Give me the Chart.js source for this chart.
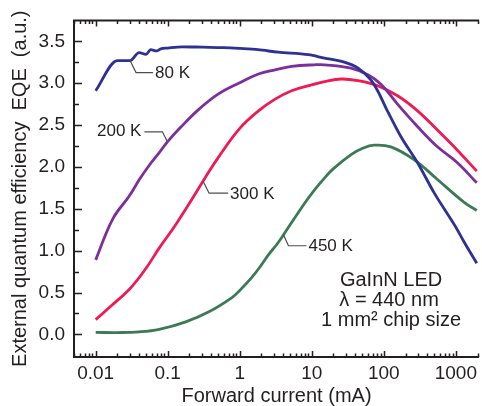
<!DOCTYPE html>
<html>
<head>
<meta charset="utf-8">
<script src="https://cdn.jsdelivr.net/npm/chart.js"></script>
<style>
  body { margin: 0; background: #fff; }
  #wrap { width: 482px; height: 406px; position: relative; }
</style>
</head>
<body>
<div id="wrap"><canvas id="eqe"></canvas></div>
<script>
let ctxEl = document.getElementById('eqe');

// data: forward current (mA) vs EQE (a.u.)
let current80 = [0.01, 0.02, 0.03, 0.04, 0.05, 0.058, 0.07, 0.08, 0.1, 0.16, 0.3, 0.6, 1, 1.8, 3.4, 9, 15, 26, 44, 66, 82, 112, 173, 294, 500, 1000, 1290, 1950];
let eqe80 = [2.91, 3.27, 3.27, 3.365, 3.345, 3.40, 3.385, 3.41, 3.42, 3.435, 3.43, 3.425, 3.415, 3.40, 3.37, 3.34, 3.30, 3.26, 3.18, 3.04, 2.91, 2.67, 2.36, 2.05, 1.69, 1.28, 1.11, 0.85];

let current200 = [0.01, 0.0173, 0.0294, 0.0404, 0.0555, 0.0763, 0.099, 0.15, 0.272, 0.5, 0.966, 1.82, 3.1, 5.26, 11, 15, 35, 60, 92, 155, 295, 555, 1050, 1950];
let eqe200 = [0.89, 1.38, 1.655, 1.85, 2.02, 2.17, 2.30, 2.47, 2.69, 2.87, 3.00, 3.11, 3.16, 3.20, 3.22, 3.22, 3.18, 3.10, 2.985, 2.75, 2.48, 2.24, 2.05, 1.81];

let current300 = [0.01, 0.0156, 0.0294, 0.05, 0.076, 0.129, 0.219, 0.336, 0.51, 1, 1.82, 3.1, 5.26, 10, 15, 25.7, 43.6, 82, 155, 294, 555, 1050, 1950];
let eqe300 = [0.176, 0.325, 0.54, 0.79, 1.03, 1.31, 1.62, 1.88, 2.12, 2.46, 2.67, 2.81, 2.91, 2.98, 3.02, 3.05, 3.03, 2.97, 2.85, 2.67, 2.44, 2.20, 1.95];

let current450 = [0.01, 0.02, 0.04, 0.076, 0.178, 0.373, 0.78, 1, 1.47, 2, 2.5, 3.3, 4.27, 8, 11, 15.1, 20, 35.5, 50, 73, 125, 265, 555, 1290, 1950];
let eqe450 = [0.024, 0.022, 0.03, 0.06, 0.15, 0.27, 0.44, 0.525, 0.68, 0.83, 0.95, 1.08, 1.22, 1.57, 1.73, 1.87, 1.98, 2.15, 2.22, 2.26, 2.24, 2.085, 1.85, 1.58, 1.48];

let xTicks = [0.01, 0.1, 1, 10, 100, 1000];
let yTicks = [0, 0.5, 1, 1.5, 2, 2.5, 3, 3.5];

let colors = ['#2c3192', '#7d2e9b', '#ee1a53', '#3c7a57'];

function pts(xs, ys) {
    return xs.map((v, i) => ({x: v, y: ys[i]}));
}

// curve labels with leader lines, anchored on the curves
let curveLabels = [
    {text: '80 K', at: [0.03, 3.27], corner: [6, 12], end: 23, side: 'right'},
    {text: '200 K', at: [0.099, 2.30], corner: [-5, -10], end: -23, side: 'left'},
    {text: '300 K', at: [0.31, 1.83], corner: [6, 12], end: 25, side: 'right'},
    {text: '450 K', at: [4.04, 1.19], corner: [5, 11], end: 23, side: 'right'},
];

let FONT = '"Liberation Sans", Arial, sans-serif';
let INK = '#231f20';

let frame = {
    id: 'frame',
    afterDatasetsDraw(chart) {
        let {ctx, chartArea: a, scales: {x, y}} = chart;
        ctx.save();
        ctx.strokeStyle = INK;

        // axis lines (left, top, bottom)
        ctx.lineWidth = 2;
        ctx.beginPath();
        ctx.moveTo(a.right, a.top);
        ctx.lineTo(a.left, a.top);
        ctx.lineTo(a.left, a.bottom);
        ctx.lineTo(a.right, a.bottom);
        ctx.stroke();

        // inward ticks
        ctx.lineWidth = 1.5;
        ctx.beginPath();
        for (let d = -3; d <= 3; d++) {
            for (let m = 1; m <= 9; m++) {
                let v = m * Math.pow(10, d);
                if (v < x.min || v > x.max) continue;
                let px = Math.round(x.getPixelForValue(v)) + 0.5;
                let len = m === 1 ? 6 : 3.5;
                ctx.moveTo(px, a.bottom);
                ctx.lineTo(px, a.bottom - len);
                ctx.moveTo(px, a.top);
                ctx.lineTo(px, a.top + len);
            }
        }
        for (let v = 0; v <= 3.5001; v += 0.25) {
            let py = Math.round(y.getPixelForValue(v)) + 0.5;
            let major = Math.abs(v * 2 - Math.round(v * 2)) < 1e-6;
            ctx.moveTo(a.left, py);
            ctx.lineTo(a.left + (major ? 8 : 5), py);
        }
        ctx.stroke();

        // curve labels
        ctx.strokeStyle = '#4d4d4d';
        ctx.lineWidth = 1.2;
        ctx.fillStyle = INK;
        ctx.font = '17px ' + FONT;
        ctx.textBaseline = 'middle';
        curveLabels.forEach(l => {
            let px = x.getPixelForValue(l.at[0]);
            let py = y.getPixelForValue(l.at[1]);
            let cx = px + l.corner[0], cy = py + l.corner[1];
            ctx.beginPath();
            ctx.moveTo(px, py);
            ctx.lineTo(cx, cy);
            ctx.lineTo(px + l.end, cy);
            ctx.stroke();
            if (l.side === 'right') {
                ctx.textAlign = 'left';
                ctx.fillText(l.text, px + l.end + 2, cy + 1);
            } else {
                ctx.textAlign = 'right';
                ctx.fillText(l.text, px + l.end - 3, cy);
            }
        });

        // sample description
        ctx.font = '20px ' + FONT;
        ctx.textAlign = 'center';
        let tx = a.right - 88;
        ctx.fillText('GaInN LED', tx, a.top + 260);
        ctx.fillText('\u03bb = 440 nm', tx - 2, a.top + 280);
        ctx.fillText('1 mm\u00b2 chip size', tx, a.top + 300);
        ctx.restore();
    }
};

let eqeData = {
    datasets: [
        {label: '80 K', data: pts(current80, eqe80), borderColor: colors[0], cubicInterpolationMode: 'monotone'},
        {label: '200 K', data: pts(current200, eqe200), borderColor: colors[1], tension: 0.4},
        {label: '300 K', data: pts(current300, eqe300), borderColor: colors[2], tension: 0.4},
        {label: '450 K', data: pts(current450, eqe450), borderColor: colors[3], tension: 0.4},
    ].map(d => Object.assign(d, {
        borderWidth: 2.8,
        pointRadius: 0,
        fill: false,
    })),
};

let eqeOptions = {
    responsive: true,
    maintainAspectRatio: false,
    animation: false,
    layout: {
        autoPadding: false,
        padding: {top: 15, right: 0, bottom: 0, left: 0},
    },
    plugins: {
        legend: {display: false},
        tooltip: {enabled: false},
    },
    scales: {
        x: {
            type: 'logarithmic',
            min: 0.005,
            max: 2100,
            grid: {display: false, drawTicks: false},
            border: {display: false},
            afterBuildTicks: s => { s.ticks = xTicks.map(v => ({value: v})); },
            afterFit: s => { s.height = 49; },
            ticks: {
                padding: 5,
                color: INK,
                font: {family: FONT, size: 19},
                callback: v => String(v),
            },
            title: {
                display: true,
                text: 'Forward current (mA)',
                color: INK,
                font: {family: FONT, size: 20, lineHeight: 1},
                padding: {top: 0, bottom: 0},
            },
        },
        y: {
            type: 'linear',
            min: -0.27,
            max: 3.75,
            grid: {display: false, drawTicks: false},
            border: {display: false},
            afterBuildTicks: s => { s.ticks = yTicks.map(v => ({value: v})); },
            afterFit: s => { s.width = 74; },
            ticks: {
                padding: 9,
                color: INK,
                font: {family: FONT, size: 19},
                callback: v => v.toFixed(1),
            },
            title: {
                display: true,
                text: 'External quantum efficiency  EQE  (a.u.)',
                color: INK,
                font: {family: FONT, size: 20, lineHeight: 1},
                padding: {top: 10, bottom: 0},
            },
        },
    },
};

let eqeChart = new Chart(ctxEl, {
    type: 'line',
    data: eqeData,
    options: eqeOptions,
    plugins: [frame],
});
</script>
</body>
</html>
